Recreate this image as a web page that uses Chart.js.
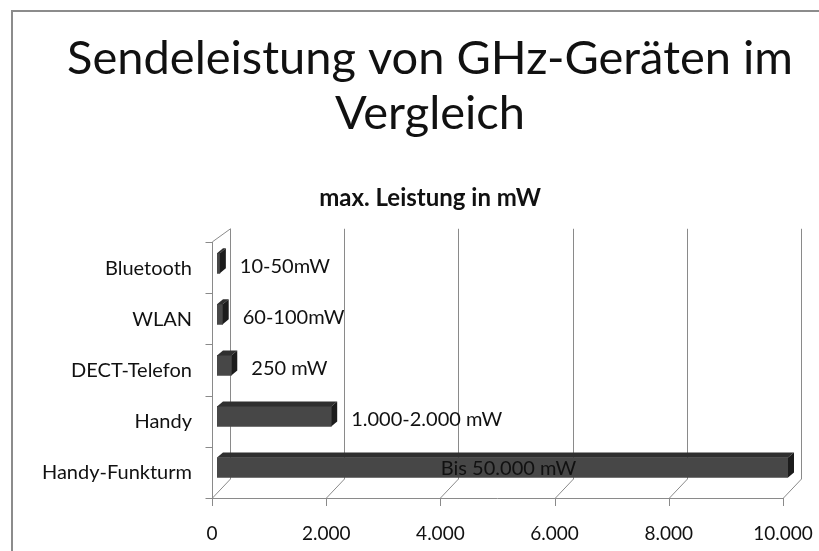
<!DOCTYPE html>
<html>
<head>
<meta charset="utf-8">
<script src="https://cdn.jsdelivr.net/npm/chart.js@4"></script>
<style>
  html, body { margin: 0; padding: 0; background: #fff; }
  #wrap { position: relative; width: 819px; height: 551px; overflow: hidden; }
  #frame { position: absolute; left: 11px; top: 10px; right: -4px; bottom: -4px;
           border-left: 2px solid #8c8c8c; border-top: 2px solid #8c8c8c; }
  canvas { position: absolute; left: 0; top: 0; }
</style>
</head>
<body>
<div id="wrap">
  <div id="frame"></div>
  <canvas id="c" width="819" height="551"></canvas>
</div>
<script>
const titleLines = ['Sendeleistung von GHz-Geräten im', 'Vergleich'];
const subtitleText = 'max. Leistung in mW';
const categories = ['Bluetooth', 'WLAN', 'DECT-Telefon', 'Handy', 'Handy-Funkturm'];
const values = [50, 100, 250, 2000, 10000];
const valueLabels = ['10-50mW', '60-100mW', '250 mW', '1.000-2.000 mW', 'Bis 50.000 mW'];
const xTicks = [0, 2000, 4000, 6000, 8000, 10000];

const FONT = 'Lato, "Open Sans", sans-serif';
const D_BAR = { dx: 6, dy: 5 };       // bar depth
const FRONT = { dx: -5 };             // front plane vs bar plane
const BACK = { dx: 13 };              // back plane vs bar plane

const deNum = v => v.toLocaleString('de-DE');

const wallPlugin = {
  id: 'wall3d',
  beforeDatasetsDraw(chart) {
    const { ctx } = chart;
    const xs = chart.scales.x, ys = chart.scales.y;
    const backTop = ys.top - 9, backBot = ys.bottom - 14;
    const frontTop = ys.top + 4, frontBot = ys.bottom + 5;
    const x0 = xs.getPixelForValue(0);
    ctx.save();
    ctx.lineWidth = 1;
    ctx.strokeStyle = '#8a8a8a';
    xTicks.forEach(v => {
      const px = Math.round(xs.getPixelForValue(v)) + 0.5;
      const bx = px + BACK.dx, fx = px + FRONT.dx;
      ctx.beginPath();
      ctx.moveTo(bx, backTop);
      ctx.lineTo(bx, backBot);
      ctx.lineTo(fx, frontBot);
      ctx.lineTo(fx, frontBot + 8);
      ctx.stroke();
    });
    ctx.beginPath();
    ctx.moveTo(x0 + FRONT.dx, frontBot + 0.5);
    ctx.lineTo(xs.getPixelForValue(10000) + FRONT.dx, frontBot + 0.5);
    ctx.stroke();
    const lf = Math.round(x0 + FRONT.dx) + 0.5;
    ctx.beginPath();
    ctx.moveTo(lf, frontBot);
    ctx.lineTo(lf, frontTop);
    ctx.lineTo(Math.round(x0 + BACK.dx) + 0.5, backTop);
    ctx.stroke();
    const n = categories.length;
    for (let i = 0; i <= n; i++) {
      const y = Math.round(frontTop + (frontBot - frontTop) * i / n) + 0.5;
      ctx.beginPath();
      ctx.moveTo(lf - 7, y);
      ctx.lineTo(lf, y);
      ctx.stroke();
    }
    ctx.restore();
  },
  afterDatasetsDraw(chart) {
    const { ctx } = chart;
    const meta = chart.getDatasetMeta(0);
    const xs = chart.scales.x;
    ctx.save();
    meta.data.forEach((bar, i) => {
      const p = bar.getProps(['x', 'y', 'base', 'height'], true);
      const top = p.y - p.height / 2, bot = p.y + p.height / 2;
      const l = p.base, r = p.x;
      ctx.fillStyle = '#2f2f2f';
      ctx.beginPath();
      ctx.moveTo(l, top); ctx.lineTo(r, top);
      ctx.lineTo(r + D_BAR.dx, top - D_BAR.dy); ctx.lineTo(l + D_BAR.dx, top - D_BAR.dy);
      ctx.closePath(); ctx.fill();
      ctx.fillStyle = '#1c1c1c';
      ctx.beginPath();
      ctx.moveTo(r, top); ctx.lineTo(r + D_BAR.dx, top - D_BAR.dy);
      ctx.lineTo(r + D_BAR.dx, bot - D_BAR.dy); ctx.lineTo(r, bot);
      ctx.closePath(); ctx.fill();
      ctx.fillStyle = '#111';
      ctx.font = '20px ' + FONT;
      ctx.textBaseline = 'middle';
      if (values[i] >= xs.max) {
        ctx.textAlign = 'center';
        ctx.fillText(valueLabels[i], (l + r) / 2 + 6, p.y + 1);
      } else {
        ctx.textAlign = 'left';
        ctx.fillText(valueLabels[i], r + D_BAR.dx + 14, p.y + 3);
      }
    });
    ctx.restore();
  }
};

new Chart(document.getElementById('c'), {
  type: 'bar',
  data: {
    labels: categories,
    datasets: [{
      data: values,
      backgroundColor: '#474747',
      borderWidth: 0,
      barThickness: 20
    }]
  },
  options: {
    indexAxis: 'y',
    responsive: false,
    animation: false,
    devicePixelRatio: 1,
    layout: { padding: { left: 41, right: 0, top: 0, bottom: 0 } },
    plugins: {
      legend: { display: false },
      tooltip: { enabled: false },
      title: {
        display: true,
        text: titleLines,
        color: '#111',
        font: { family: FONT, size: 47, weight: 'normal', lineHeight: 1.17 },
        padding: { top: 31, bottom: 0 }
      },
      subtitle: {
        display: true,
        text: subtitleText,
        color: '#111',
        font: { family: FONT, size: 24, weight: 'bold', lineHeight: 1.2 },
        padding: { top: 43, bottom: 25 }
      }
    },
    scales: {
      x: {
        type: 'linear',
        min: 0, max: 10000,
        afterBuildTicks: s => { s.ticks = xTicks.map(v => ({ value: v })); },
        afterFit: s => { s.height = 58; s.paddingRight = 0; s.paddingLeft = 0; },
        grid: { display: false, drawTicks: false },
        border: { display: false },
        ticks: {
          color: '#111',
          font: { family: FONT, size: 19 },
          padding: 29,
          labelOffset: -5,
          maxRotation: 0,
          callback: v => deNum(v)
        }
      },
      y: {
        afterFit: s => { s.width = 176; },
        grid: { display: false, drawTicks: false },
        border: { display: false },
        ticks: {
          color: '#111',
          font: { family: FONT, size: 20 },
          padding: 25,
          labelOffset: 5
        }
      },
      yr: {
        position: 'right',
        display: true,
        afterFit: s => { s.width = 31; },
        grid: { display: false, drawTicks: false },
        border: { display: false },
        ticks: { display: false }
      }
    }
  },
  plugins: [wallPlugin]
});
</script>
</body>
</html>
